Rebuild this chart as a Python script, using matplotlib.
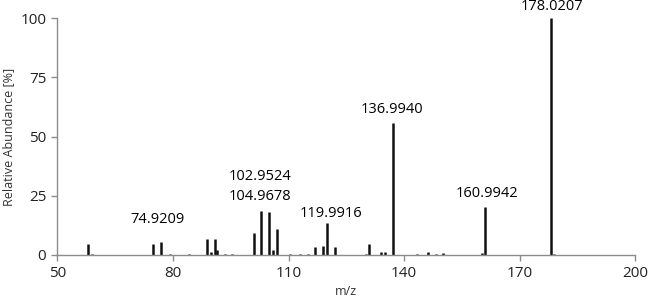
import matplotlib.pyplot as plt

plt.rcParams['font.family'] = ['Open Sans', 'DejaVu Sans']

# peak list (m/z, relative abundance %)
mz = [58.0, 59.0, 74.92, 77.0, 79.3, 84.3, 88.9, 90.0, 91.0, 91.4, 93.5, 95.3,
      101.0, 102.95, 104.97, 106.1, 107.0, 110.3, 113.0, 115.0, 117.0, 118.9,
      119.99, 122.15, 130.1, 131.0, 134.0, 135.0, 136.99, 143.3, 146.2, 148.3,
      150.2, 160.2, 160.99, 178.02, 179.0]
abundance = [4.5, 0.5, 4.5, 5.2, 0.3, 0.3, 6.7, 1.0, 6.5, 2.0, 0.3, 0.3,
             9.0, 18.4, 18.2, 2.2, 11.0, 0.3, 0.3, 0.3, 3.3, 3.5,
             13.5, 3.3, 0.3, 4.5, 1.0, 1.0, 55.9, 0.5, 1.0, 0.4,
             0.7, 0.8, 20.3, 100.0, 0.3]

# annotated peaks: text, x centre, baseline y (data coords)
label_text = ["74.9209", "102.9524", "104.9678", "119.9916", "136.9940", "160.9942", "178.0207"]
label_x = [75.9, 102.6, 102.6, 121.0, 136.8, 161.4, 178.5]
label_y = [13.3, 31.6, 23.1, 16.1, 60.1, 24.3, 103.5]

fig = plt.figure(figsize=(6.49, 3.03), dpi=100)
ax = fig.add_axes([0.0883, 0.1594, 0.8906, 0.7802])

ax.vlines(mz, 0, abundance, colors='#111111', linewidth=1.8)

for t, x, y in zip(label_text, label_x, label_y):
	ax.text(x, y, t, ha='center', va='baseline', fontsize=10.5, color='black',
		clip_on=False)

ax.set_xlim(50, 200)
ax.set_ylim(0, 100)
ax.set_xticks([50, 80, 110, 140, 170, 200])
ax.set_yticks([0, 25, 50, 75, 100])

for side in ['top', 'right']:
	ax.spines[side].set_visible(False)
for side in ['left', 'bottom']:
	ax.spines[side].set_color('#8c8c8c')
	ax.spines[side].set_linewidth(1.0)

ax.tick_params(axis='both', direction='out', length=4, width=1.0,
	color='#8c8c8c', labelsize=11, labelcolor='#222222', pad=4)

ax.set_xlabel('m/z', fontsize=9, color='#333333', labelpad=3)
ax.set_ylabel('Relative Abundance [%]', fontsize=9, color='#333333', labelpad=4)

fig.savefig('out.png', dpi=100)
